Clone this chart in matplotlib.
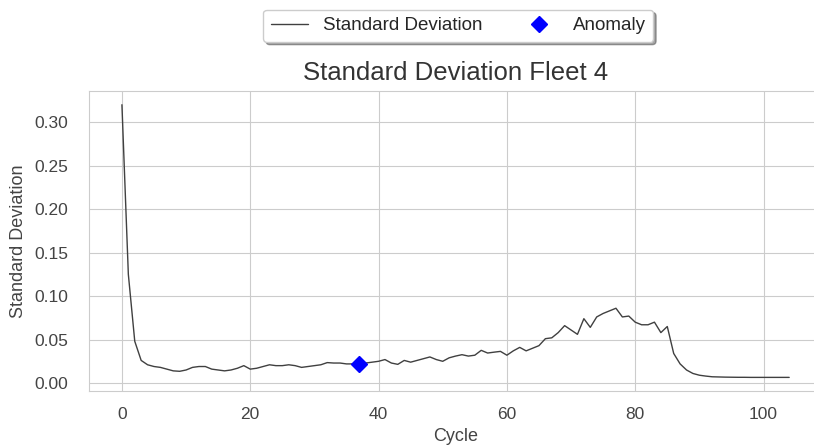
import numpy as np
import pandas as pd
import seaborn as sns
from matplotlib import pyplot as plt

sns.set_style("whitegrid")
plt.rcParams['font.family'] = ['Liberation Sans', 'DejaVu Sans']

# std per cycle for fleet 4
cycles = list(range(105))
std_dev = [
    0.320, 0.125, 0.048, 0.026, 0.021, 0.019, 0.018, 0.016, 0.014, 0.0135,
    0.015, 0.018, 0.019, 0.019, 0.016, 0.015, 0.014, 0.015, 0.017, 0.020,
    0.016, 0.017, 0.019, 0.021, 0.020, 0.020, 0.021, 0.020, 0.018, 0.019,
    0.020, 0.021, 0.0235, 0.023, 0.023, 0.022, 0.022, 0.0215, 0.023, 0.024,
    0.025, 0.027, 0.023, 0.0215, 0.026, 0.024, 0.026, 0.028, 0.030, 0.027,
    0.025, 0.029, 0.031, 0.0326, 0.031, 0.032, 0.0376, 0.0345, 0.0355, 0.0364,
    0.032, 0.037, 0.041, 0.037, 0.040, 0.043, 0.051, 0.052, 0.058, 0.066,
    0.061, 0.056, 0.074, 0.064, 0.076, 0.080, 0.083, 0.086, 0.076, 0.077,
    0.070, 0.067, 0.067, 0.070, 0.058, 0.065, 0.034, 0.022, 0.015, 0.011,
    0.009, 0.008, 0.0072, 0.007, 0.0068, 0.0067, 0.0066, 0.0066, 0.0065, 0.0065,
    0.0065, 0.0065, 0.0065, 0.0065, 0.0065,
]
anomaly_cycles = [37]

df = pd.DataFrame({"cycle": cycles, "std": std_dev})
anom = df[df.cycle.isin(anomaly_cycles)]

fig = plt.figure(figsize=(8.14, 4.45), dpi=100)
ax = fig.add_axes([0.1088, 0.1213, 0.9017, 0.674])

ax.plot(df.cycle, df["std"], color="#404040", lw=1.0, label="Standard Deviation")
ax.plot(anom.cycle, anom["std"], "D", color="blue", markersize=8, label="Anomaly",
        linestyle="none")

ax.set_xticks([0, 20, 40, 60, 80, 100])
ax.set_yticks(np.arange(0, 0.31, 0.05))
ax.tick_params(labelsize=12.5, colors="#444444")
ax.tick_params(axis="y", pad=11)
ax.tick_params(axis="x", pad=8)
ax.set_xlabel("Cycle", fontsize=13, color="#444444", labelpad=4)
ax.set_ylabel("Standard Deviation", fontsize=13, color="#444444", labelpad=5)
ax.set_title("Standard Deviation Fleet 4", fontsize=18.5, color="#333333", pad=8)

fig.legend(loc="center", bbox_to_anchor=(0.563, 0.942), ncol=2, fontsize=13.5,
           shadow=True, fancybox=True, framealpha=1, edgecolor="#cccccc")

fig.savefig("out.png", dpi=100)
plt.close()
